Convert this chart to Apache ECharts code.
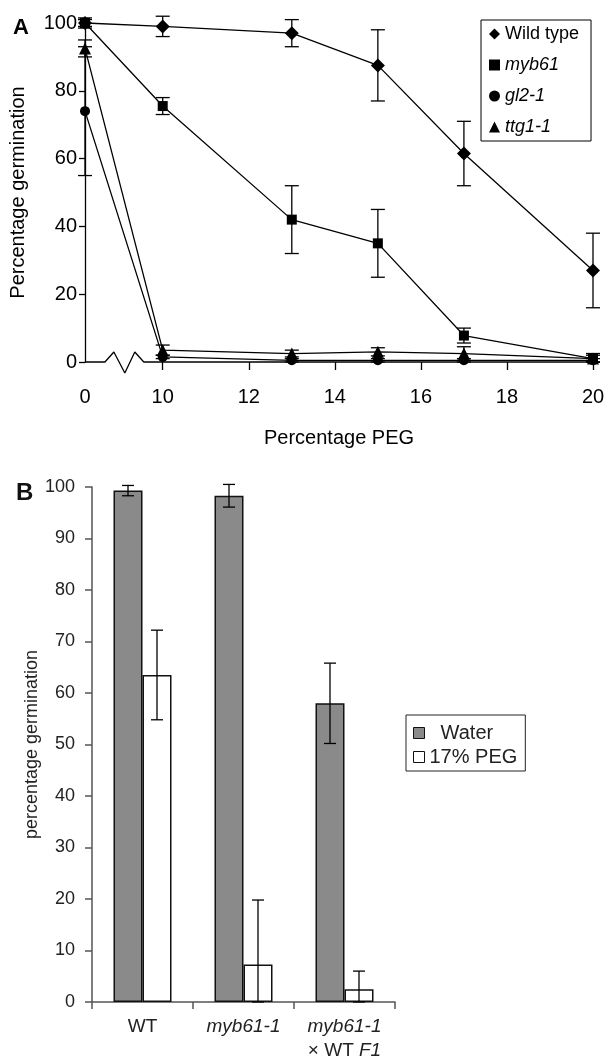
<!DOCTYPE html>
<html><head><meta charset="utf-8">
<script src="https://cdn.jsdelivr.net/npm/echarts@6/dist/echarts.min.js"></script>
<style>html,body{margin:0;padding:0;background:#fff}#c{width:616px;height:1062px}</style>
</head><body><div id="c"></div>
<script>
// ---------- Panel A data ----------
const pegLevels = [0, 10, 13, 15, 17, 20];
const xTickLabelsA = [0, 10, 12, 14, 16, 18, 20];
const wildType    = [100, 99, 97, 87.5, 61.5, 27];
const wildTypeErr = [1.5, 3, 4, 10.5, 9.5, 11];
const myb61       = [100, 75.5, 42, 35, 7.8, 1];
const myb61Err    = [1, 2.5, 10, 10, 2.2, 1.5];
const gl21        = [74, 1.5, 0.5, 0.5, 0.5, 0.5];
const gl21Err     = [19, 0.5, 0.5, 0.5, 0.5, 0.5];
const ttg11       = [92.5, 3.5, 2.5, 3, 2.5, 1];
const ttg11Err    = [2.5, 1.5, 1, 1.2, 2, 1];

// ---------- Panel B data ----------
const genotypes = ['WT', 'myb61-1', 'myb61-1\n× WT F1'];
const water     = [99.3, 98.3, 58];
const waterErr  = [1, 2.2, 7.8];
const peg17     = [63.5, 7.3, 2.5];
const peg17Err  = [8.7, 12.5, 3.5];

// broken x-axis: 0 is drawn at this axis position
const BREAK_AT = 8.194;
const xPos = v => (v === 0 ? BREAK_AT : v);

const FONT = '"Liberation Sans", Arial, sans-serif';
const BAR_W = 29;

function errRender(capHalf, dx) {
  return function (params, api) {
    const x = api.value(0), m = api.value(1), e = api.value(2);
    const lo = Math.max(0, m - e), hi = m + e;
    const p1 = api.coord([x, hi]), p0 = api.coord([x, lo]);
    const cx = p1[0] + dx;
    const style = { stroke: '#000', lineWidth: 1.3 };
    return { type: 'group', children: [
      { type: 'line', shape: { x1: cx, y1: p1[1], x2: cx, y2: p0[1] }, style },
      { type: 'line', shape: { x1: cx - capHalf, y1: p1[1], x2: cx + capHalf, y2: p1[1] }, style },
      { type: 'line', shape: { x1: cx - capHalf, y1: p0[1], x2: cx + capHalf, y2: p0[1] }, style }
    ]};
  };
}

const seriesA = [
  { name: 'Wild type', vals: wildType, err: wildTypeErr, symbol: 'diamond', size: 14 },
  { name: 'myb61', vals: myb61, err: myb61Err, symbol: 'rect', size: 10 },
  { name: 'gl2-1', vals: gl21, err: gl21Err, symbol: 'circle', size: 10 },
  { name: 'ttg1-1', vals: ttg11, err: ttg11Err, symbol: 'triangle', size: 12 }
];

const series = [];
seriesA.forEach(s => {
  series.push({
    type: 'line', name: s.name, xAxisIndex: 0, yAxisIndex: 0,
    data: pegLevels.map((p, i) => [xPos(p), s.vals[i]]),
    symbol: s.symbol, symbolSize: s.size, clip: false,
    lineStyle: { color: '#000', width: 1.3 }, itemStyle: { color: '#000' },
    z: 3
  });
  series.push({
    type: 'custom', name: s.name + ' err', xAxisIndex: 0, yAxisIndex: 0,
    data: pegLevels.map((p, i) => [xPos(p), s.vals[i], s.err[i]]),
    encode: { x: 0, y: 1 }, renderItem: errRender(7, 0), clip: false, silent: true, z: 4
  });
});

// baseline with axis-break zigzag (decoration of x axis)
series.push({
  type: 'line', name: 'axis', xAxisIndex: 0, yAxisIndex: 0, silent: true, clip: false,
  symbol: 'none', lineStyle: { color: '#000', width: 1.3 }, z: 2,
  data: [[BREAK_AT, 0], [BREAK_AT + 0.463, 0], [BREAK_AT + 0.671, 2.95], [BREAK_AT + 0.926, -3.24],
         [BREAK_AT + 1.157, 2.95], [BREAK_AT + 1.366, 0], [20, 0]]
});

series.push({
  type: 'bar', name: 'Water', xAxisIndex: 1, yAxisIndex: 1, data: water,
  barWidth: BAR_W, barGap: '0%',
  itemStyle: { color: '#8a8a8a', borderColor: '#111', borderWidth: 1.5 }
});
series.push({
  type: 'bar', name: '17% PEG', xAxisIndex: 1, yAxisIndex: 1, data: peg17,
  barWidth: BAR_W, barGap: '0%',
  itemStyle: { color: '#fff', borderColor: '#111', borderWidth: 1.5 }
});
series.push({
  type: 'custom', name: 'Water err', xAxisIndex: 1, yAxisIndex: 1,
  data: water.map((v, i) => [i, v, waterErr[i]]), encode: { x: 0, y: 1 },
  renderItem: errRender(6, -BAR_W / 2), silent: true, z: 5
});
series.push({
  type: 'custom', name: 'PEG err', xAxisIndex: 1, yAxisIndex: 1,
  data: peg17.map((v, i) => [i, v, peg17Err[i]]), encode: { x: 0, y: 1 },
  renderItem: errRender(6, BAR_W / 2), silent: true, z: 5
});

const richLabel = v => v.split('\n').map(l => l.split(' ').map(w =>
  (/myb|F1/.test(w) ? '{i|' + w + '}' : '{n|' + w + '}')).join('{n| }')).join('\n');

const option = {
  backgroundColor: '#fff',
  animation: false,
  textStyle: { fontFamily: FONT },
  title: [
    { text: 'A', left: 8, top: 12, textStyle: { fontSize: 22, fontWeight: 'bold', color: '#000', fontFamily: FONT } },
    { text: 'B', left: 11, top: 476, textStyle: { fontSize: 24, fontWeight: 'bold', color: '#111', fontFamily: FONT } }
  ],
  legend: [
    {
      data: [
        { name: 'Wild type', icon: 'diamond' },
        { name: 'myb61', icon: 'rect', textStyle: { fontStyle: 'italic' } },
        { name: 'gl2-1', icon: 'circle', textStyle: { fontStyle: 'italic' } },
        { name: 'ttg1-1', icon: 'triangle', textStyle: { fontStyle: 'italic' } }
      ],
      orient: 'vertical', left: 481, top: 20,
      borderColor: '#000', borderWidth: 1, padding: [5, 12, 5, 8],
      itemGap: 13, itemWidth: 11, itemHeight: 11,
      textStyle: { fontSize: 18, color: '#000', fontFamily: FONT },
      itemStyle: { color: '#000' }
    },
    {
      data: ['Water', '17% PEG'],
      formatter: n => (n === 'Water' ? '  ' + n : n),
      orient: 'vertical', left: 406, top: 715, icon: 'rect',
      borderColor: '#222', borderWidth: 1, padding: [7, 8, 3, 7],
      itemGap: 2, itemWidth: 11, itemHeight: 11,
      textStyle: { fontSize: 20, color: '#222', fontFamily: FONT, lineHeight: 22 },
      itemStyle: { borderColor: '#111', borderWidth: 1 }
    }
  ],
  grid: [
    { left: 83, width: 510, top: 23, height: 339 },
    { left: 92, width: 303, top: 487, height: 515 }
  ],
  xAxis: [
    {
      type: 'value', gridIndex: 0, min: BREAK_AT, max: 20,
      name: 'Percentage PEG', nameLocation: 'middle', nameGap: 66,
      nameTextStyle: { fontSize: 20, color: '#000', fontFamily: FONT },
      axisLine: { show: false },
      axisTick: { show: true, length: 8, lineStyle: { color: '#000', width: 1.3 },
                  customValues: xTickLabelsA.filter(v => v !== 0) },
      axisLabel: { customValues: xTickLabelsA.map(xPos), fontSize: 20, color: '#000', margin: 25,
                   formatter: v => (v < 9 ? '0' : String(Math.round(v))) },
      splitLine: { show: false }
    },
    {
      type: 'category', gridIndex: 1, data: genotypes,
      axisLine: { lineStyle: { color: '#555', width: 1.5 } },
      axisTick: { show: true, length: 7, alignWithLabel: false, lineStyle: { color: '#555', width: 1.5 } },
      axisLabel: {
        margin: 13, color: '#222', formatter: richLabel, interval: 0,
        rich: {
          n: { fontSize: 19, lineHeight: 24, color: '#222', fontFamily: FONT },
          i: { fontSize: 19, lineHeight: 24, color: '#222', fontStyle: 'italic', fontFamily: FONT }
        }
      }
    }
  ],
  yAxis: [
    {
      type: 'value', gridIndex: 0, min: 0, max: 100, interval: 20,
      name: 'Percentage germination', nameLocation: 'middle', nameGap: 57,
      nameTextStyle: { fontSize: 20, color: '#000', fontFamily: FONT },
      axisLine: { show: true, lineStyle: { color: '#000', width: 1.3 } },
      axisTick: { show: true, length: 6, lineStyle: { color: '#000', width: 1.3 } },
      axisLabel: { fontSize: 20, color: '#000', margin: 8 },
      splitLine: { show: false }
    },
    {
      type: 'value', gridIndex: 1, min: 0, max: 100, interval: 10,
      name: 'percentage germination', nameLocation: 'middle', nameGap: 50,
      nameTextStyle: { fontSize: 18, color: '#222', fontFamily: FONT },
      axisLine: { show: true, lineStyle: { color: '#555', width: 1.5 } },
      axisTick: { show: true, length: 7, lineStyle: { color: '#555', width: 1.5 } },
      axisLabel: { fontSize: 18, color: '#222', margin: 17 },
      splitLine: { show: false }
    }
  ],
  series
};

const chart = echarts.init(document.getElementById('c'), null, { renderer: 'canvas' });
chart.setOption(option);
</script></body></html>
